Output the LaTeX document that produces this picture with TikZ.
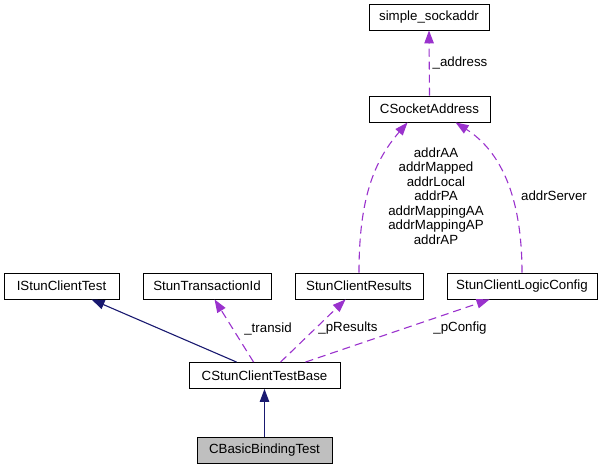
\documentclass[tikz,border=0pt]{standalone}
\usepackage{fontspec}
\setmainfont{Liberation Sans}
\usetikzlibrary{arrows.meta,calc}
\definecolor{navyedge}{HTML}{191970}
\definecolor{purpedge}{HTML}{9A32CD}
\definecolor{grayfill}{HTML}{BFBFBF}
\begin{document}
\begin{tikzpicture}[x=1pt,y=-1pt,
  font=\fontsize{13.3}{14.5}\selectfont,
  box/.style={draw=black, line width=0.9pt, minimum height=26pt, inner sep=0pt, fill=white},
  inh/.style={draw=navyedge, line width=1.1pt, -{Triangle[length=13pt,width=9.5pt]}},
  use/.style={draw=purpedge, line width=1.1pt, dash pattern=on 8pt off 5pt, -{Triangle[length=13pt,width=9.5pt]}},
  lbl/.style={inner sep=0pt, text=black}]
\useasboundingbox (0,0) rectangle (605,469);

\node[box, minimum width=120pt] (ssa) at (429,17) {simple\_sockaddr};
\node[box, minimum width=121pt] (csa) at (429.5,109) {CSocketAddress};
\node[box, minimum width=115pt] (isct) at (61.5,286) {IStunClientTest};
\node[box, minimum width=128pt] (sti) at (207,286) {StunTransactionId};
\node[box, minimum width=128pt] (scr) at (359,286) {StunClientResults};
\node[box, minimum width=150pt] (sclc) at (522,286) {StunClientLogicConfig};
\node[box, minimum width=151pt] (base) at (264.5,375.5) {CStunClientTestBase};
\node[box, minimum width=135pt, fill=grayfill] (bbt) at (264.5,450) {CBasicBindingTest};

\draw[inh] (bbt.north) -- (base.south);
\draw[inh] ($(base.north west)+(48,0)$) -- ($(isct.south west)+(88,0)$);
\draw[use] ($(base.north west)+(65,0)$) -- ($(sti.south west)+(72,0)$);
\draw[use] ($(base.north west)+(92,0)$) -- ($(scr.south west)+(51,0)$);
\draw[use] ($(base.north west)+(117,0)$) -- ($(sclc.south west)+(43,0)$);
\draw[use] (csa.north) -- (ssa.south);
\draw[use] (scr.north) .. controls ($(scr.north)+(0,-75)$) and ($(csa.south west)+(6,38)$) .. ($(csa.south west)+(39,0)$);
\draw[use] (sclc.north) .. controls ($(sclc.north)+(0,-78)$) and ($(csa.south west)+(131,28)$) .. ($(csa.south west)+(87,0)$);

\node[lbl] (laddress) at (460,63) {\_address};
\node[lbl, align=center] (lmulti) at (436,196) {addrAA\\addrMapped\\addrLocal\\addrPA\\addrMappingAA\\addrMappingAP\\addrAP};
\node[lbl] (lserver) at (554,196) {addrServer};
\node[lbl] (ltransid) at (268,329) {\_transid};
\node[lbl] (lpresults) at (348,328) {\_pResults};
\node[lbl] (lpconfig) at (460,328) {\_pConfig};
\end{tikzpicture}
\end{document}
